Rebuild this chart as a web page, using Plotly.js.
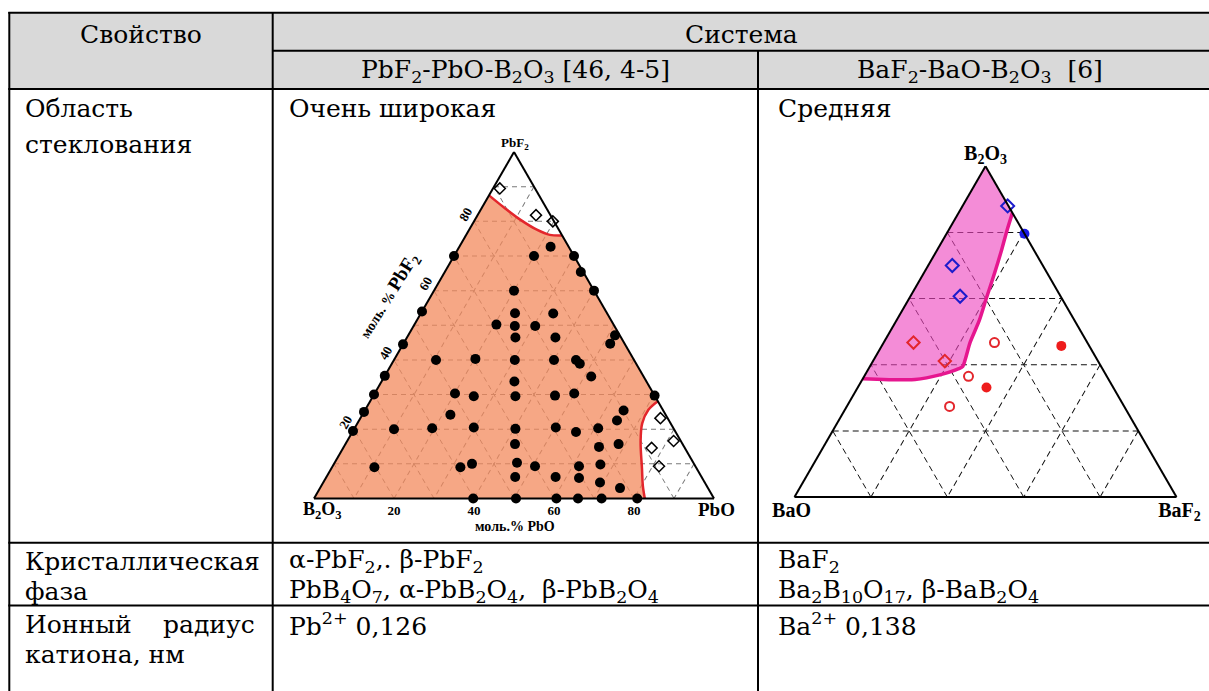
<!DOCTYPE html>
<html>
<head>
<meta charset="utf-8">
<script src="https://cdn.plot.ly/plotly-3.0.1.min.js"></script>
<style>
html, body { margin:0; padding:0; background:#ffffff; }
#chart { width:1209px; height:691px; }
</style>
</head>
<body>
<div id="chart"></div>
<script>
// ================= Chart 1: PbF2 - PbO - B2O3 (mol. %) =================
// a = PbF2 (apex), b = B2O3 (bottom-left), c = PbO (bottom-right)
const pbGlassPbF2 = [72.7, 70, 70, 70, 65.4, 60, 60, 54, 53.5, 53.4, 50.2, 49.8, 49.8, 46.5, 46.5, 47.1, 44.7, 44.5,
  40, 40.3, 40, 40, 40, 38.9, 35.4, 35.2, 33.8, 30, 30.3, 29.5, 29.5, 29.7, 30.3, 29.7, 25.4, 25, 24.2, 22.5,
  19.5, 20, 20.3, 20.5, 20.1, 20.5, 19.2, 20.3, 15.7, 14.9, 15.7, 9, 9, 10, 10.3, 9.3, 9.3, 9.8, 6.2, 6.2, 5.9, 4.6, 3,
  0, 0, 0, 0, 0, 0];
const pbGlassB2O3 = [4.5, 30, 10, 0, 0.6, 0, 20, 46, 23, 13.5, 29.3, 24.9, 19.8, 26.4, 16.4, 1.2, 3.6, 55.5,
  49.5, 39.5, 29.8, 20, 14.5, 14.1, 64.6, 13.1, 33, 70, 49.6, 45.3, 34.9, 24.9, 19.8, 0, 9.9, 75, 53.8, 13,
  80.5, 70, 60.3, 49.8, 39.6, 29.3, 24.9, 18.8, 41.9, 21.3, 16, 80.4, 58.9, 55.5, 44.1, 40.1, 29.1, 23.5, 46.6, 36.5, 30.8, 26.2, 22,
  60.2, 49.5, 39.4, 34, 28.1, 19.2];
const pbGlassPbO = [22.8, 0, 20, 30, 34, 40, 20, 0, 23.5, 33.1, 20.5, 25.3, 30.4, 27.1, 37.1, 51.7, 51.7, 0,
  10.5, 20.2, 30.2, 40, 45.5, 47, 0, 51.7, 33.2, 0, 20.1, 25.2, 35.6, 45.4, 49.9, 70.3, 64.7, 0, 22, 64.5,
  0, 10, 19.4, 29.7, 40.3, 50.2, 55.9, 60.9, 42.4, 63.8, 68.3, 10.6, 32.1, 34.5, 45.6, 50.6, 61.6, 66.7, 47.2, 57.3, 63.3, 69.2, 75,
  39.8, 50.5, 60.6, 66, 71.9, 80.8];

// crystallised compositions (open diamonds)
const pbCrystPbF2 = [89.5, 81.8, 80, 23.2, 16.6, 14.6, 9.3];
const pbCrystB2O3 = [8.8, 3.6, 0.3, 1.8, 1.8, 8.3, 9.1];
const pbCrystPbO  = [1.7, 14.6, 19.7, 75, 81.6, 77.1, 81.6];

// glass-region border near PbF2 corner
const pbTopBorderPbF2 = [87.5, 84, 80.5, 77.6, 76.1, 75.9];
const pbTopBorderB2O3 = [12.5, 10.5, 8.2, 5.5, 3, 0];
const pbTopBorderPbO  = [0, 5.5, 11.3, 16.9, 20.9, 24.1];
// glass-region border near PbO corner
const pbCornerBorderPbF2 = [28.1, 25.6, 21.7, 16.3, 8.6, 3.8, 0];
const pbCornerBorderB2O3 = [0, 3.6, 7.1, 10.2, 13.7, 15.9, 17.3];
const pbCornerBorderPbO  = [71.9, 70.8, 71.2, 73.5, 77.7, 80.3, 82.7];

const pbGridValues = [10, 20, 30, 40, 50, 60, 70, 80, 90];
const pbF2TickLabels = ['20', '40', '60', '80'];
const pbOTickLabels = ['20', '40', '60', '80'];

// ================= Chart 2: BaF2 - BaO - B2O3 =================
// a = B2O3 (apex), b = BaO (bottom-left), c = BaF2 (bottom-right)
const baBlueDiamB2O3 = [88, 70, 60.7];
const baBlueDiamBaO  = [0.2, 23.7, 26.3];
const baBlueDiamBaF2 = [11.8, 6.3, 13];

const baBlueDotB2O3 = [79.6];
const baBlueDotBaO  = [0];
const baBlueDotBaF2 = [20.4];

const baRedDiamB2O3 = [46.7, 41.1];
const baRedDiamBaO  = [45.5, 40.1];
const baRedDiamBaF2 = [7.8, 18.8];

const baRedOpenB2O3 = [46.7, 36.5, 27.4];
const baRedOpenBaO  = [24.3, 36.2, 45.7];
const baRedOpenBaF2 = [29, 27.3, 26.9];

const baRedDotB2O3 = [45.7, 33.1];
const baRedDotBaO  = [7.3, 33.2];
const baRedDotBaF2 = [47, 33.7];

const baBorderB2O3 = [85.9, 80.3, 74.6, 67.8, 60, 53.3, 46.7, 39.5, 38.8, 37, 35.5, 35.8];
const baBorderBaO  = [0, 4.3, 8.5, 13.7, 19.8, 25, 30.7, 36.2, 37.6, 43.2, 50.7, 64.2];
const baBorderBaF2 = [14.1, 15.4, 16.9, 18.5, 20.2, 21.7, 22.6, 24.3, 23.6, 19.8, 13.8, 0];

const baGridValues = [20, 40, 60, 80];

// ================= Table texts =================
const headProperty = 'Свойство';
const headSystem = 'Система';
const headSys1 = 'PbF<sub>2</sub>-PbO-B<sub>2</sub>O<sub>3</sub> [46, 4-5]';
const headSys2 = 'BaF<sub>2</sub>-BaO-B<sub>2</sub>O<sub>3</sub>  [6]';

// ---------------- traces ----------------
const regionA = [0].concat(pbTopBorderPbF2, pbCornerBorderPbF2, [0]);
const regionB = [100].concat(pbTopBorderB2O3, pbCornerBorderB2O3, [100]);
const regionC = [0].concat(pbTopBorderPbO, pbCornerBorderPbO, [0]);

const baRegionA = [100].concat(baBorderB2O3, [100]);
const baRegionB = [0].concat(baBorderBaO, [0]);
const baRegionC = [0].concat(baBorderBaF2, [0]);

const common = {type: 'scatterternary', hoverinfo: 'skip', cliponaxis: false, showlegend: false};

const traces = [
  Object.assign({}, common, {subplot: 'ternary', mode: 'lines', a: regionA, b: regionB, c: regionC,
    fill: 'toself', fillcolor: 'rgba(243,136,90,0.74)', line: {width: 0, color: 'rgba(0,0,0,0)'}}),
  Object.assign({}, common, {subplot: 'ternary', mode: 'lines', a: pbTopBorderPbF2, b: pbTopBorderB2O3, c: pbTopBorderPbO,
    line: {color: '#e3262c', width: 2.5, shape: 'spline'}}),
  Object.assign({}, common, {subplot: 'ternary', mode: 'lines', a: pbCornerBorderPbF2, b: pbCornerBorderB2O3, c: pbCornerBorderPbO,
    line: {color: '#e3262c', width: 2.5, shape: 'spline'}}),
  Object.assign({}, common, {subplot: 'ternary', mode: 'markers', a: pbGlassPbF2, b: pbGlassB2O3, c: pbGlassPbO,
    marker: {symbol: 'circle', size: 10, color: '#000'}}),
  Object.assign({}, common, {subplot: 'ternary', mode: 'markers', a: pbCrystPbF2, b: pbCrystB2O3, c: pbCrystPbO,
    marker: {symbol: 'diamond-open', size: 8.5, color: '#000', line: {width: 1.5}}}),

  Object.assign({}, common, {subplot: 'ternary2', mode: 'lines', a: baRegionA, b: baRegionB, c: baRegionC,
    fill: 'toself', fillcolor: 'rgba(238,70,190,0.62)', line: {width: 0, color: 'rgba(0,0,0,0)'}}),
  Object.assign({}, common, {subplot: 'ternary2', mode: 'lines', a: baBorderB2O3, b: baBorderBaO, c: baBorderBaF2,
    line: {color: '#e6168f', width: 3.5, shape: 'spline', smoothing: 0.6}}),
  Object.assign({}, common, {subplot: 'ternary2', mode: 'markers', a: baBlueDiamB2O3, b: baBlueDiamBaO, c: baBlueDiamBaF2,
    marker: {symbol: 'diamond-open', size: 10, color: '#1c1ccc', line: {width: 2}}}),
  Object.assign({}, common, {subplot: 'ternary2', mode: 'markers', a: baBlueDotB2O3, b: baBlueDotBaO, c: baBlueDotBaF2,
    marker: {symbol: 'circle', size: 10, color: '#1a1ae6'}}),
  Object.assign({}, common, {subplot: 'ternary2', mode: 'markers', a: baRedDiamB2O3, b: baRedDiamBaO, c: baRedDiamBaF2,
    marker: {symbol: 'diamond-open', size: 9.5, color: '#e3262c', line: {width: 2}}}),
  Object.assign({}, common, {subplot: 'ternary2', mode: 'markers', a: baRedOpenB2O3, b: baRedOpenBaO, c: baRedOpenBaF2,
    marker: {symbol: 'circle-open', size: 9, color: '#e3262c', line: {width: 2}}}),
  Object.assign({}, common, {subplot: 'ternary2', mode: 'markers', a: baRedDotB2O3, b: baRedDotBaO, c: baRedDotBaF2,
    marker: {symbol: 'circle', size: 10, color: '#ee1c1c'}})
];

// ---------------- layout helpers (page geometry) ----------------
const W = 1209, H = 691;
const px = v => v / W;
const py = v => 1 - v / H;

function tAxis(extra) {
  return Object.assign({
    showline: true, linecolor: '#000', linewidth: 2,
    showgrid: true, gridcolor: '#7a7a7a', gridwidth: 1, griddash: '5px,4px',
    ticks: '', showticklabels: false, tickmode: 'array',
    title: {text: ''}
  }, extra || {});
}

const tickFont = {family: 'Liberation Serif', size: 13, color: '#000'};
const pbATickText = pbGridValues.map(v => pbF2TickLabels.indexOf(String(v)) >= 0 ? '<b>' + v + '</b>' : '');
const pbBTickText = pbGridValues.map(v => pbOTickLabels.indexOf(String(100 - v)) >= 0 ? '<b>' + (100 - v) + '</b>' : '');

const titleFont2 = {family: 'Liberation Serif', size: 20, color: '#000'};

function line(x0, y0, x1, y1, w) {
  return {type: 'line', xref: 'paper', yref: 'paper', x0: px(x0), y0: py(y0), x1: px(x1), y1: py(y1),
    line: {color: '#000', width: w || 2}, layer: 'above'};
}

const shapes = [
  {type: 'rect', xref: 'paper', yref: 'paper', x0: px(9.3), x1: px(1209), y0: py(12.7), y1: py(89),
   fillcolor: '#d9d9d9', line: {width: 0}, layer: 'below'},
  line(8.3, 12.7, 1209, 12.7),
  line(272.7, 50.7, 1209, 50.7),
  line(8.3, 89, 1209, 89),
  line(8.3, 542.7, 1209, 542.7),
  line(8.3, 605.5, 1209, 605.5),
  line(9.3, 12, 9.3, 691),
  line(272.7, 12, 272.7, 691),
  line(758, 50, 758, 691)
];

const serif = {family: 'DejaVu Serif', size: 25, color: '#000'};
function ann(text, x, y, opts) {
  return Object.assign({
    text: text, x: px(x), y: py(y), xref: 'paper', yref: 'paper',
    showarrow: false, xanchor: 'left', yanchor: 'middle', font: serif
  }, opts || {});
}
const bold = s => '<b>' + s + '</b>';
const chartFont = sz => ({family: 'Liberation Serif', size: sz, color: '#000'});

const annotations = [
  ann(headProperty, 141, 34.7, {xanchor: 'center'}),
  ann(headSystem, 741, 34.7, {xanchor: 'center'}),
  ann(headSys1, 515.4, 71.3, {xanchor: 'center'}),
  ann(headSys2, 980, 71.3, {xanchor: 'center'}),
  ann('Область', 23, 108),
  ann('стеклования', 23, 144.7),
  ann('Очень широкая', 287, 108),
  ann('Средняя', 776, 108),
  ann('Кристаллическая', 23, 561.3),
  ann('фаза', 23, 591.3),
  ann('α-PbF<sub>2</sub>,. β-PbF<sub>2</sub>', 287, 561.3),
  ann('PbB<sub>4</sub>O<sub>7</sub>, α-PbB<sub>2</sub>O<sub>4</sub>,  β-PbB<sub>2</sub>O<sub>4</sub>', 287, 591.3),
  ann('BaF<sub>2</sub>', 776, 561.3),
  ann('Ba<sub>2</sub>B<sub>10</sub>O<sub>17</sub>, β-BaB<sub>2</sub>O<sub>4</sub>', 776, 591.3),
  ann('Ионный', 23, 624),
  ann('радиус', 257, 624, {xanchor: 'right'}),
  ann('катиона, нм', 23, 654.7),
  ann('Pb<sup>2+</sup> 0,126', 287, 624),
  ann('Ba<sup>2+</sup> 0,138', 776, 624),
  // chart 1 labels
  ann(bold('PbF<sub>2</sub>'), 515, 144, {xanchor: 'center', font: chartFont(13)}),
  ann(bold('B<sub>2</sub>O<sub>3</sub>'), 322, 510, {xanchor: 'center', font: chartFont(18)}),
  ann(bold('PbO'), 716, 509, {xanchor: 'center', font: chartFont(19)}),
  ann(bold('моль.% PbO'), 515, 526, {xanchor: 'center', font: chartFont(14)}),
  ann(bold('моль. % <span style="font-size:19px">PbF<sub>2</sub></span>'), 389, 296,
      {xanchor: 'center', textangle: -58, font: chartFont(14)})
];

const layout = {
  width: W, height: H,
  margin: {l: 0, r: 0, t: 0, b: 0},
  paper_bgcolor: '#ffffff',
  showlegend: false,
  font: {family: 'Liberation Serif', color: '#000'},
  ternary: {
    sum: 100,
    domain: {x: [0.25972, 0.59057], y: [0.27858, 0.77990]},
    bgcolor: '#ffffff',
    aaxis: tAxis({tickvals: pbGridValues, ticktext: pbATickText, showticklabels: true, tickangle: -60, tickfont: tickFont}),
    baxis: tAxis({tickvals: pbGridValues, ticktext: pbBTickText, showticklabels: true, tickfont: tickFont}),
    caxis: tAxis({tickvals: pbGridValues})
  },
  ternary2: {
    sum: 100,
    domain: {x: [0.65715, 0.97312], y: [0.28068, 0.75941]},
    bgcolor: '#ffffff',
    aaxis: tAxis({tickvals: baGridValues, gridcolor: '#111', griddash: '6px,4px',
      title: {text: bold('B<sub>2</sub>O<sub>3</sub>'), font: titleFont2}}),
    baxis: tAxis({tickvals: baGridValues, gridcolor: '#111', griddash: '6px,4px',
      title: {text: bold('BaO'), font: titleFont2}}),
    caxis: tAxis({tickvals: baGridValues, gridcolor: '#111', griddash: '6px,4px',
      title: {text: bold('BaF<sub>2</sub>'), font: titleFont2}})
  },
  shapes: shapes,
  annotations: annotations
};

Plotly.newPlot('chart', traces, layout, {staticPlot: true, displayModeBar: false});
</script>
</body>
</html>
